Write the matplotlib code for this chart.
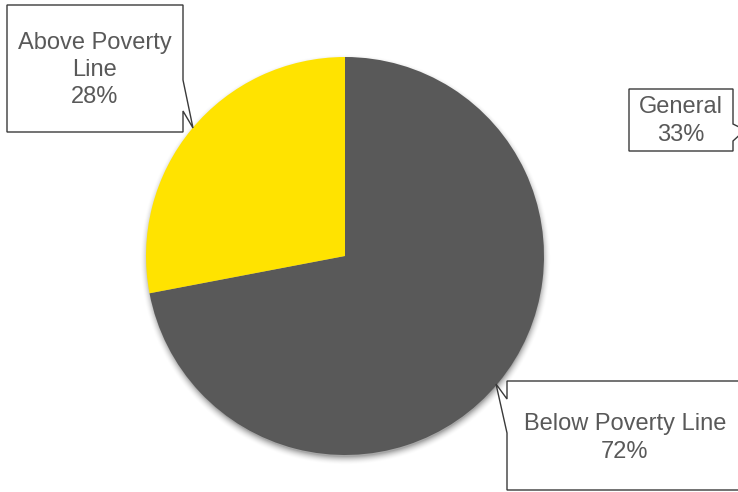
import matplotlib.pyplot as plt
import numpy as np
from matplotlib.patches import Polygon

# poverty split
categories = ["Below Poverty Line", "Above Poverty Line"]
shares = [72, 28]
# leftover label from the source workbook
extra_label = "General"
extra_share = 33

GREY = "#595959"
YELLOW = "#FFE300"
TEXT = "#595959"
EDGE = "#3a3a3a"

W, H = 738, 492
CX, CY, R = 345, 256, 199

plt.rcParams["font.family"] = ["Liberation Sans", "DejaVu Sans"]


def flip(pts):
    # pixel coords (y down) -> axes data coords (y up)
    return [(x, H - y) for x, y in pts]


def callout(ax, pts):
    ax.add_patch(Polygon(flip(pts), closed=True, facecolor="white",
                         edgecolor=EDGE, linewidth=1.0, zorder=5,
                         joinstyle="miter"))


fig = plt.figure(figsize=(W / 100, H / 100), dpi=100)
ax = fig.add_axes([0, 0, 1, 1])

# soft drop shadow under the pie
yy, xx = np.mgrid[0:H, 0:W]
d = np.hypot(xx - CX, yy - (CY + 3)) - R
alpha = np.clip(1 - (d + 2) / 9, 0, 1) ** 2 * 0.35
shadow = np.zeros((H, W, 4))
shadow[..., 3] = alpha
ax.imshow(shadow, extent=(0, W, 0, H), origin="upper", zorder=0,
          interpolation="bilinear")

ax.pie(shares, colors=[GREY, YELLOW], startangle=90, counterclock=False,
       center=(CX, H - CY), radius=R, frame=True,
       wedgeprops=dict(linewidth=0, zorder=1))
ax.set_xlim(0, W)
ax.set_ylim(0, H)
ax.set_axis_off()
ax.set_aspect("auto")

# callout boxes
callout(ax, [(7, 5), (183, 5), (183, 80), (193, 128), (183, 111),
             (183, 132), (7, 132)])
callout(ax, [(629, 89), (733, 89), (733, 124), (745, 130), (733, 141),
             (733, 151), (629, 151)])
callout(ax, [(507, 381), (750, 381), (750, 490), (507, 490), (507, 433),
             (496, 384), (507, 399)])

fs = 17
kw = dict(ha="center", va="center", color=TEXT, fontsize=fs,
          linespacing=1.3, zorder=6)
ax.text(95, H - 70, f"Above Poverty\nLine\n{shares[1]}%", **kw)
ax.text(681, H - 121, f"{extra_label}\n{extra_share}%", **kw)
ax.text(625, H - 438, f"{categories[0]}\n{shares[0]}%", **kw)

fig.savefig("out.png", dpi=100)
